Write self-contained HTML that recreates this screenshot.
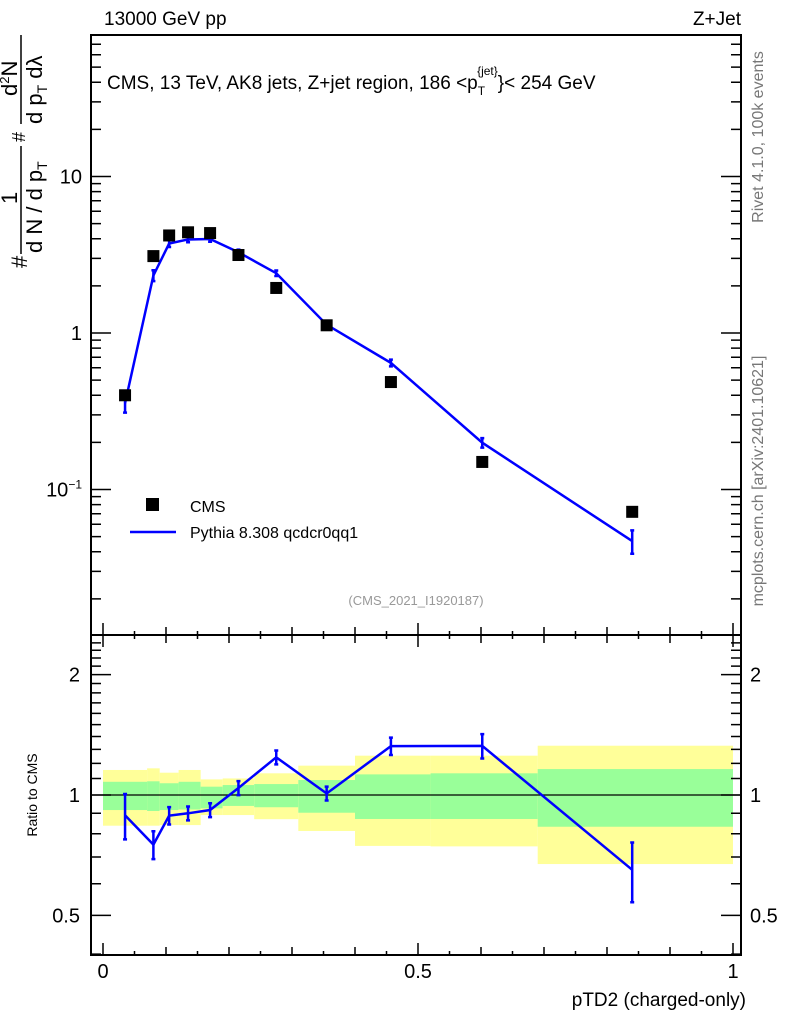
<!DOCTYPE html>
<html><head><meta charset="utf-8"><style>
body{margin:0;background:#fff}
svg{display:block;font-family:"Liberation Sans",sans-serif}
</style></head><body>
<svg id="c" width="786" height="1024" viewBox="0 0 786 1024" xmlns="http://www.w3.org/2000/svg">
<g id="bands"></g>
<g id="marks"></g>
<g id="axes"></g>
<text x="104" y="25" font-size="19">13000 GeV pp</text>
<text x="741" y="25" font-size="19" text-anchor="end">Z+Jet</text>
<text x="107" y="89" font-size="19">CMS, 13 TeV, AK8 jets, Z+jet region, 186 &lt;p<tspan font-size="12" dy="6">T</tspan><tspan font-size="12" dx="-8" dy="-20">{jet}</tspan><tspan dy="14">}&lt; 254 GeV</tspan></text>
<text x="416" y="605" font-size="13" fill="#999" text-anchor="middle">(CMS_2021_I1920187)</text>
<rect x="146" y="498" width="13" height="13" fill="#000"/>
<text x="190" y="512" font-size="16">CMS</text>
<line x1="130" y1="532" x2="176" y2="532" stroke="#0000ff" stroke-width="2.5"/>
<text x="190" y="538" font-size="16">Pythia 8.308 qcdcr0qq1</text>
<text transform="translate(763,137) rotate(-90)" font-size="16" fill="#777" text-anchor="middle">Rivet 4.1.0,  100k events</text>
<text transform="translate(763,481) rotate(-90)" font-size="16" fill="#777" text-anchor="middle">mcplots.cern.ch [arXiv:2401.10621]</text>
<text transform="translate(37,795) rotate(-90)" font-size="14" text-anchor="middle">Ratio to CMS</text>
<g transform="rotate(-90)" font-size="22">
<text x="-268" y="27">#</text>
<text x="-204" y="17">1</text>
<line x1="-254" y1="21" x2="-146" y2="21" stroke="#000" stroke-width="1.5"/>
<text x="-253" y="42">d N / d p<tspan font-size="14" dy="5">T</tspan></text>
<text x="-142" y="25" font-size="18">#</text>
<text x="-96" y="17">d<tspan font-size="13" dy="-8">2</tspan><tspan dy="8">N</tspan></text>
<line x1="-124" y1="21" x2="-35" y2="21" stroke="#000" stroke-width="1.5"/>
<text x="-124" y="42">d p<tspan font-size="14" dy="5">T</tspan><tspan dy="-5"> d</tspan>λ</text>
</g>
<text x="746" y="1006" font-size="19" text-anchor="end">pTD2 (charged-only)</text>
</svg>
<script>
const xs=[0.035,0.08,0.105,0.135,0.17,0.215,0.275,0.355,0.457,0.602,0.84];
const cms=[0.40,3.1,4.2,4.4,4.35,3.15,1.94,1.12,0.486,0.15,0.072];
const mc=[0.356,2.33,3.73,3.96,3.99,3.28,2.41,1.13,0.644,0.199,0.0468];
const mcRelErr=[0.13,0.08,0.05,0.04,0.04,0.04,0.04,0.04,0.05,0.07,0.17];
const binEdges=[0,0.07,0.09,0.12,0.155,0.19,0.24,0.31,0.40,0.52,0.69,1.0];
const yelHi=[1.155,1.166,1.137,1.155,1.094,1.10,1.133,1.184,1.254,1.254,1.328];
const yelLo=[0.838,0.838,0.841,0.841,0.891,0.891,0.87,0.813,0.746,0.744,0.672];
const grnHi=[1.079,1.082,1.07,1.079,1.049,1.059,1.065,1.09,1.126,1.133,1.161];
const grnLo=[0.917,0.912,0.917,0.92,0.926,0.939,0.932,0.903,0.871,0.871,0.833];
const topTicks=["10","1"];
const ratioTicks=[2,1,0.5];
const xTicks=["0","0.5","1"];
const NS="http://www.w3.org/2000/svg";
const X0=91,X1=741,T0=35,T1=635,B1=955;
const sx=v=>103+630*v;
const sy=v=>333-156.5*Math.log10(v);
const sr=v=>795-400*Math.log10(v);
function mk(p,t,a){const e=document.createElementNS(NS,t);for(const k in a)e.setAttribute(k,a[k]);p.appendChild(e);return e;}
const bands=document.getElementById('bands'),marks=document.getElementById('marks'),axes=document.getElementById('axes');
for(let i=0;i<binEdges.length-1;i++){
 const x1=sx(binEdges[i]),x2=sx(binEdges[i+1]);
 const y=mk(bands,'rect',{x:x1,y:sr(yelHi[i]),width:x2-x1,height:sr(yelLo[i])-sr(yelHi[i]),fill:'#ffff99'});
 
 
 const g=mk(bands,'rect',{x:x1,y:sr(grnHi[i]),width:x2-x1,height:sr(grnLo[i])-sr(grnHi[i]),fill:'#99ff99'});
 
 
}
const one=mk(marks,'line',{x1:X0,x2:X1,y1:sr(1),y2:sr(1),stroke:'#000','stroke-width':1.2});


let d='',dr='';
xs.forEach((x,i)=>{d+=(i?'L':'M')+sx(x)+','+sy(mc[i]);dr+=(i?'L':'M')+sx(x)+','+sr(mc[i]/cms[i]);});
const l=mk(marks,'path',{d:d,fill:'none',stroke:'#0000ff','stroke-width':2.5});


const lr=mk(marks,'path',{d:dr,fill:'none',stroke:'#0000ff','stroke-width':2.5});


xs.forEach((x,i)=>{
 const px=sx(x);
 [[sy,mc[i]],[sr,mc[i]/cms[i]]].forEach(([f,v])=>{
  const a=f(v*(1+mcRelErr[i])),b=f(v*(1-mcRelErr[i]));
  const e=mk(marks,'path',{d:`M${px},${a}L${px},${b}M${px-2},${a}L${px+2},${a}M${px-2},${b}L${px+2},${b}`,stroke:'#0000ff','stroke-width':2.5,fill:'none'});
  
  
 });
 const s=mk(marks,'rect',{x:px-6,y:sy(cms[i])-6,width:12,height:12,fill:'#000'});
 
 
});
const f1=mk(axes,'rect',{x:X0,y:T0,width:X1-X0,height:T1-T0,fill:'none',stroke:'#000','stroke-width':2});


const f2=mk(axes,'rect',{x:X0,y:T1,width:X1-X0,height:B1-T1,fill:'none',stroke:'#000','stroke-width':2});


let tk='';
for(let e=-2;e<=1;e++)for(let m=1;m<=9;m++){const v=m*Math.pow(10,e);const y=sy(v);if(y<T0||y>T1)continue;const L=m==1?20:10;tk+=`M${X0},${y}h${L}M${X1},${y}h${-L}`;}
for(let v=0.3;v<=2.5;v+=0.1){const y=sr(v);if(y<T1||y>B1)continue;const L=(Math.abs(v-1)<1e-6||Math.abs(v-2)<1e-6||Math.abs(v-0.5)<1e-6)?20:10;tk+=`M${X0},${y}h${L}M${X1},${y}h${-L}`;}
for(let k=0;k<=20;k++){const x=sx(k*0.05);const L=k%10==0?12:(k%2==0?8:4);tk+=`M${x},${T1}v${-L}M${x},${T1}v${L}M${x},${B1}v${-L}`;}
const t=mk(axes,'path',{d:tk,stroke:'#000','stroke-width':1.5,fill:'none'});


[10,1].forEach((v,i)=>{const e=mk(axes,'text',{x:82,y:sy(v)+7,'font-size':20,'text-anchor':'end'});e.textContent=topTicks[i];

});
const tm=mk(axes,'text',{x:82,y:sy(0.1)+7,'font-size':20,'text-anchor':'end'});
tm.innerHTML='10<tspan font-size="12" dy="-8">−1</tspan>';


ratioTicks.forEach(v=>{[[80,'end'],[750,'start']].forEach(([x,a])=>{const e=mk(axes,'text',{x:x,y:sr(v)+7,'font-size':20,'text-anchor':a});e.textContent=String(v);

});});
[0,0.5,1].forEach((v,i)=>{const e=mk(axes,'text',{x:sx(v),y:978,'font-size':20,'text-anchor':'middle'});e.textContent=xTicks[i];

});
</script>
</body></html>
